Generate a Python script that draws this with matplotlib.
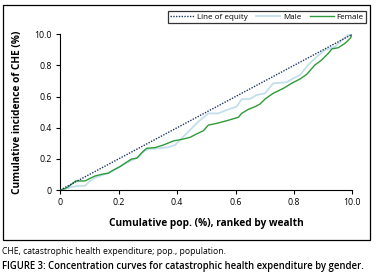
import matplotlib
matplotlib.use("Agg")
import matplotlib.pyplot as plt
from matplotlib.patches import Rectangle

plt.rcParams['font.family'] = ['Open Sans', 'DejaVu Sans']

tick_vals = [0, 0.2, 0.4, 0.6, 0.8, 1.0]
tick_labels = ["0", "0.2", "0.4", "0.6", "0.8", "10.0"]

equity_x = [0, 1]
equity_y = [0, 1]

male_x = [0, 0.02, 0.04, 0.062, 0.085, 0.10, 0.12, 0.15, 0.18, 0.20, 0.225, 0.25, 0.27, 0.29,
          0.31, 0.341, 0.37, 0.393, 0.421, 0.444, 0.473, 0.507, 0.541, 0.570, 0.604, 0.621,
          0.650, 0.672, 0.701, 0.729, 0.775, 0.798, 0.821, 0.849, 0.878, 0.906, 0.941, 0.964,
          0.986, 1.0]
male_y = [0, 0.008, 0.02, 0.026, 0.027, 0.055, 0.08, 0.10, 0.125, 0.145, 0.172, 0.195, 0.215,
          0.255, 0.265, 0.268, 0.275, 0.289, 0.342, 0.385, 0.439, 0.492, 0.492, 0.514, 0.535,
          0.583, 0.585, 0.61, 0.621, 0.685, 0.692, 0.717, 0.739, 0.803, 0.856, 0.899, 0.92,
          0.963, 0.996, 1.0]

female_x = [0, 0.005, 0.027, 0.053, 0.085, 0.102, 0.119, 0.147, 0.164, 0.182, 0.204, 0.224,
            0.244, 0.262, 0.279, 0.296, 0.324, 0.353, 0.387, 0.416, 0.444, 0.467, 0.490, 0.507,
            0.536, 0.570, 0.610, 0.621, 0.644, 0.667, 0.684, 0.701, 0.729, 0.764, 0.792, 0.821,
            0.844, 0.872, 0.895, 0.918, 0.930, 0.952, 0.975, 0.993, 1.0]
female_y = [0, 0, 0.02, 0.058, 0.058, 0.075, 0.09, 0.103, 0.107, 0.128, 0.15, 0.175, 0.199,
            0.204, 0.24, 0.268, 0.272, 0.289, 0.315, 0.325, 0.338, 0.36, 0.381, 0.417, 0.428,
            0.445, 0.467, 0.492, 0.518, 0.535, 0.552, 0.584, 0.621, 0.653, 0.685, 0.713, 0.743,
            0.803, 0.835, 0.878, 0.906, 0.914, 0.942, 0.974, 1.0]

fig = plt.figure(figsize=(3.81, 2.77), dpi=100)
ax = fig.add_axes([60.3/381, 1-190/277, 292/381, 155.7/277])

ax.plot(male_x, male_y, color="#c3dfec", lw=1.3, label="Male", zorder=2)
ax.plot(female_x, female_y, color="#2e9b3a", lw=1.0, label="Female", zorder=3)
ax.plot(equity_x, equity_y, color="#1f3864", lw=1.0, ls=(0, (1, 1)), label="Line of equity", zorder=4)

ax.set_xlim(0, 1)
ax.set_ylim(0, 1)
ax.set_xticks(tick_vals)
ax.set_xticklabels(tick_labels)
ax.set_yticks(tick_vals)
ax.set_yticklabels(tick_labels)
for s in ["top", "right"]:
    ax.spines[s].set_visible(False)
for s in ["left", "bottom"]:
    ax.spines[s].set_color("black")
    ax.spines[s].set_linewidth(0.8)
ax.tick_params(axis="both", direction="out", length=3, width=0.8, labelsize=6.3,
               colors="black", pad=3)
ax.set_xlabel("Cumulative pop. (%), ranked by wealth", fontsize=7.3, fontweight="bold", labelpad=8)
ax.set_ylabel("Cumulative incidence of CHE (%)", fontsize=7.3, fontweight="bold", labelpad=8)

handles, labels = ax.get_legend_handles_labels()
order = [2, 0, 1]
leg = fig.legend([handles[i] for i in order], [labels[i] for i in order],
                 loc="upper right", bbox_to_anchor=(366/381, 1-11/277), ncol=3,
                 fontsize=5.8, frameon=True, fancybox=False, edgecolor="black",
                 handlelength=3.0, handletextpad=0.3, columnspacing=1.1,
                 borderpad=0.3, borderaxespad=0)
leg.get_frame().set_linewidth(0.9)

fig.patches.append(Rectangle((3/381, 1-240/277), 367/381, 235/277, transform=fig.transFigure,
                             fill=False, edgecolor="black", lw=0.9))

fig.text(2/381, 1-252/277, "CHE, catastrophic health expenditure; pop., population.",
         fontsize=6.2, va="center", ha="left")
fig.text(2/381, 1-267/277, "FIGURE 3: Concentration curves for catastrophic health expenditure by gender.",
         fontsize=6.85, va="center", ha="left", fontweight="semibold")

fig.savefig("out.png", dpi=100)
